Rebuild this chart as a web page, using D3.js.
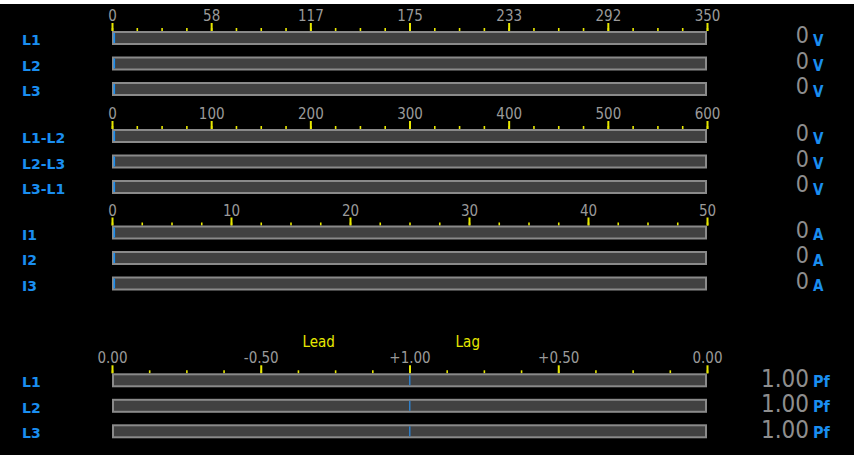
<!DOCTYPE html>
<html><head><meta charset="utf-8">
<script src="https://cdn.jsdelivr.net/npm/d3@7"></script>
<style>
html,body{margin:0;padding:0;background:#000;}
svg{display:block;}
</style></head>
<body>
<svg id="c" width="854" height="455"></svg>
<script>
// ---- data ----
const voltPhaseLabels = ["L1","L2","L3"];
const voltPhaseValues = [0,0,0];
const voltPhaseTicks = ["0","58","117","175","233","292","350"];
const voltPhaseMax = 350;

const voltLineLabels = ["L1-L2","L2-L3","L3-L1"];
const voltLineValues = [0,0,0];
const voltLineTicks = ["0","100","200","300","400","500","600"];
const voltLineMax = 600;

const currentLabels = ["I1","I2","I3"];
const currentValues = [0,0,0];
const currentTicks = ["0","10","20","30","40","50"];
const currentMax = 50;

const pfLabels = ["L1","L2","L3"];
const pfValues = [1.00,1.00,1.00];
const pfTicks = ["0.00","-0.50","+1.00","+0.50","0.00"];
const pfSide = ["Lead","Lag"];

// ---- layout ----
const svg = d3.select("#c");
const W = 854, H = 455;
svg.append("rect").attr("width",W).attr("height",H).attr("fill","#000");
svg.append("rect").attr("width",W).attr("height",4).attr("fill","#fff");

const X0 = 112, X1 = 707;
const pitch = 25.5, barH = 14;
const BLUE = "#1a8ef0", GRAY_TXT = "#9a9a9a", VAL_TXT = "#8e8e8e", YEL = "#e8e800";
const condensed = "'DejaVu Sans Condensed','DejaVu Sans',sans-serif";

function drawAxis(top, scale, majorVals, labels, minorStep, maxV){
  const minorVals = d3.range(0, maxV + minorStep/2, minorStep);
  const gMin = svg.append("g").attr("transform",`translate(0,${top})`)
    .call(d3.axisTop(scale).tickValues(minorVals).tickSize(3).tickFormat(""));
  gMin.select(".domain").remove();
  gMin.selectAll("line").attr("stroke",YEL).attr("stroke-width",1.6);
  const gMaj = svg.append("g").attr("transform",`translate(0,${top})`)
    .call(d3.axisTop(scale).tickValues(majorVals).tickSize(8).tickPadding(2)
      .tickFormat((d,i)=>labels[i]));
  gMaj.select(".domain").remove();
  gMaj.selectAll("line").attr("stroke",YEL).attr("stroke-width",2);
  gMaj.selectAll("text").attr("fill",GRAY_TXT).attr("font-family",condensed)
    .attr("font-size",15);
}

function drawRows(top, labels, posFn, unit, valueTexts, isPf){
  labels.forEach((lab,i)=>{
    const y = top + i*pitch;
    svg.append("text").attr("x",22).attr("y",y+14).text(lab)
      .attr("fill",BLUE).attr("font-family","'DejaVu Sans',sans-serif")
      .attr("font-weight","bold").attr("font-size",14);
    svg.append("rect").attr("x",X0+1).attr("y",y+1).attr("width",X1-X0-2).attr("height",barH-2)
      .attr("fill","#414141").attr("stroke","#8a8a8a").attr("stroke-width",2);
    const p = posFn(i);
    if(isPf){
      svg.append("rect").attr("x",p-0.5).attr("y",y+2).attr("width",1.5).attr("height",barH-4)
        .attr("fill","#2f7fc8");
    } else {
      svg.append("rect").attr("x",X0+1.5).attr("y",y+2).attr("width",Math.max(1.6,p-X0-1.5)).attr("height",barH-4)
        .attr("fill",BLUE);
    }
    const vb = isPf ? y+13.4 : y+12.3;
    svg.append("text").attr("x",809).attr("y",vb).attr("text-anchor","end").text(valueTexts[i])
      .attr("fill",VAL_TXT).attr("font-family",condensed).attr("font-size",isPf?24:23);
    svg.append("text").attr("x",813).attr("y",isPf? y+13.4 : y+14.7).text(unit)
      .attr("fill",BLUE).attr("font-family",condensed).attr("font-weight","bold")
      .attr("font-size",isPf?16:15);
  });
}

// Group 1: phase voltage
{
  const top = 31;
  const x = d3.scaleLinear().domain([0,voltPhaseMax]).range([X0,X1]);
  const majors = voltPhaseTicks.map((d,i)=> i*voltPhaseMax/(voltPhaseTicks.length-1));
  drawAxis(top, x, majors, voltPhaseTicks, voltPhaseMax/24, voltPhaseMax);
  drawRows(top, voltPhaseLabels, i=>x(voltPhaseValues[i]), "V", voltPhaseValues.map(v=>String(v)), false);
}
// Group 2: line voltage
{
  const top = 129;
  const x = d3.scaleLinear().domain([0,voltLineMax]).range([X0,X1]);
  const majors = voltLineTicks.map(Number);
  drawAxis(top, x, majors, voltLineTicks, 25, voltLineMax);
  drawRows(top, voltLineLabels, i=>x(voltLineValues[i]), "V", voltLineValues.map(v=>String(v)), false);
}
// Group 3: current
{
  const top = 225.5;
  const x = d3.scaleLinear().domain([0,currentMax]).range([X0,X1]);
  const majors = currentTicks.map(Number);
  drawAxis(top, x, majors, currentTicks, 2.5, currentMax);
  drawRows(top, currentLabels, i=>x(currentValues[i]), "A", currentValues.map(v=>String(v)), false);
}
// Group 4: power factor
{
  const top = 373.3;
  const x = d3.scaleLinear().domain([0,pfTicks.length-1]).range([X0,X1]);
  const majors = pfTicks.map((d,i)=>i);
  drawAxis(top, x, majors, pfTicks, 0.25, pfTicks.length-1);
  // lag (positive) -> right of centre, lead (negative) -> left
  const pfPos = v => v >= 0 ? x(2 + (1 - v)*2) : x(2 - (1 + v)*2);
  drawRows(top, pfLabels, i=>pfPos(pfValues[i]), "Pf", pfValues.map(v=>v.toFixed(2)), true);
  svg.append("text").attr("x",x(1.28)).attr("y",346.5).text(pfSide[0])
    .attr("fill",YEL).attr("font-family",condensed).attr("font-size",15);
  svg.append("text").attr("x",x(2.31)).attr("y",346.5).text(pfSide[1])
    .attr("fill",YEL).attr("font-family",condensed).attr("font-size",15);
}
</script>
</body></html>
